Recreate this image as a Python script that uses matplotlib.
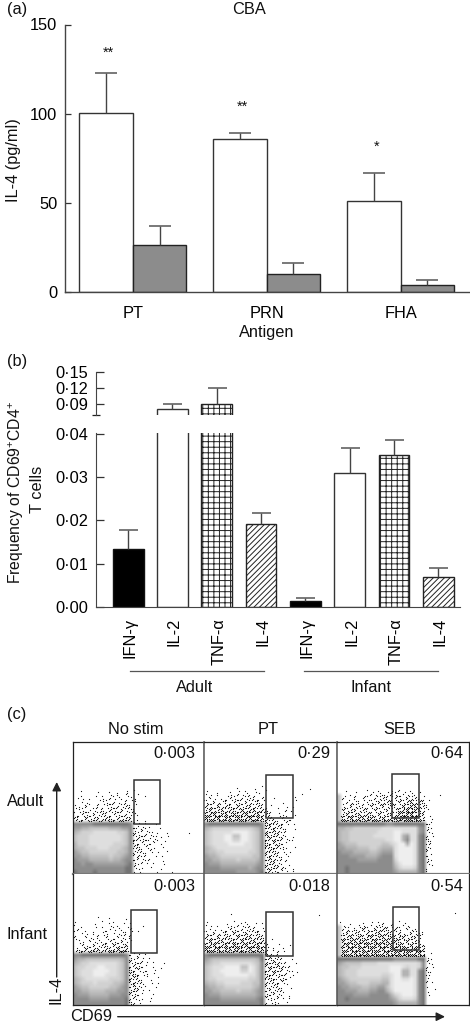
import numpy as np
import matplotlib
matplotlib.use("Agg")
import matplotlib.pyplot as plt
from matplotlib.patches import Rectangle
from matplotlib.transforms import ScaledTranslation

plt.rcParams['font.family'] = ['Liberation Sans', 'DejaVu Sans']
plt.rcParams['mathtext.default'] = 'regular'
plt.rcParams['hatch.linewidth'] = 0.7

# ---- panel (a) ----
antigens = ['PT', 'PRN', 'FHA']
il4_high = [100.5, 86, 51]
il4_high_top = [123, 89, 66.5]
il4_low = [26.5, 10, 4]
il4_low_top = [37, 16.5, 6.5]
a_ticks = [0, 50, 100, 150]
a_stars = ['**', '**', '*']
a_star_y = [134, 104, 81.5]

# ---- panel (b) ----
cytokines = ['IFN-γ', 'IL-2', 'TNF-α', 'IL-4', 'IFN-γ', 'IL-2', 'TNF-α', 'IL-4']
freq = [0.0135, 0.0808, 0.09, 0.0192, 0.0014, 0.031, 0.035, 0.007]
freq_top = [0.0178, 0.09, 0.12, 0.0218, 0.002, 0.0367, 0.0385, 0.009]
freq_style = ['solid', 'open', 'grid', 'diag', 'solid', 'open', 'grid', 'diag']
b_low_ticks = [0.00, 0.01, 0.02, 0.03, 0.04]
b_low_labels = ['0·00', '0·01', '0·02', '0·03', '0·04']
b_high_ticks = [0.09, 0.12, 0.15]
b_high_labels = ['0·09', '0·12', '0·15']

# ---- panel (c) ----
col_names = ['No stim', 'PT', 'SEB']
row_names = ['Adult', 'Infant']
gate_pct = [['0·003', '0·29', '0·64'], ['0·003', '0·018', '0·54']]
gate_x = [[46.8, 46.7, 41.9], [44.3, 46.9, 42.2]]
gate_y = [[38.1, 42.2, 42.6], [39.4, 37.5, 41.7]]
gate_w = 20.0
gate_h = 33.0
grey_levels = [1.0, 0.93, 0.87, 0.82, 0.76, 0.70, 0.62, 0.55, 0.45, 0.35]

# Read-off density maps: digit = grey level of the contour, letter = count of dots in cell
adult_nostim = [
"", "",
"..a...a..a.a.b.a",
"..a..a.a.aab.ba.a.a",
".aa.a.ababa.abab",
"a.aba.babcbabbaa",
"abab.bababcbbcba",
"babcabbcbcbcbabb",
"bcbcbcbcbcbbccb.a",
"cbcccdccddcdddc.a.a",
"777778888888887ba.a.a",
"665544444555667cabaa.a",
"543332222223347cabab.a.a.....a",
"433322222222347cbcbab.aa",
"433322222222347dcbcaba.a",
"533322222233347bcbaba.a",
"544333222333457ccabaa.a",
"654433333334457bcbab.a.a",
"665544444344567bcba.a.a",
"766655555455677bbaba..a",
"776776666666678baba.a.a",
"777777777777788baa.a..a",
"877778777777788baa...a..a",
]
adult_pt = [
"",
"........a...a.a...........a",
"a..a..a.a.b.aa.a",
"ab.a.abababab.a.......a.a",
"bab.bcbbcbbcbcb..a....a",
"bcbcabcbcbccbcb.a..a",
"cdcdcdcddcdcdcbb..a.a.a",
"ededededdedededcb.a.ba",
"efefefefefefefdcb.aba.a",
"fefefefefefefeedcbabab",
"788888888888887eddbcb.a",
"543333333333457dcdcba.a",
"432222211112347dcdcba",
"432221144112347ecdcba.a",
"432221133112347dcdcbab",
"432222111122347dcdcba",
"543222222222347dcdcba.a",
"544332222223347cdcba.a",
"655433333333447cdcbab",
"665544443444457cdcbab",
"766655555555567cdcba.a",
"777766666665677dcdbca.a",
"777777776666678dcbbaa.a",
]
adult_seb = [
"", "",
"..a.a..a.ab.abab.ab.a",
"4.aab.abbabcbcbcabbb.a...a",
"4b.abab.bcbcbcbcbcdcbca",
"4abcbabbcbcdcdcbcdedcca",
"4cbcbcbcbcbcbcbdedfedcb",
"4bcdcbcbcbcbcbbefgfedc",
"4ededededcdcdccdgfgfec.a",
"4fefefefefefefefefgfed.a",
"8888888888887788888888ca",
"5544333333322222222267ba",
"5443333333222211222267ba",
"5443333332222211562278ba",
"5443333333332211572278ca",
"6544433333344321151278ba",
"6655544433455521111278ba",
"7666555544566621111278b",
"7776666555677721111278ba",
"7777766666777731111278ba",
"7777777777777742111278ba",
"7787777777777753222378a",
"7787777777777765555578a",
]
infant_nostim = [
"",
"......a..a...a",
"a....a.a.aa.a.a",
"a.a..a.a.aab.aa..a",
"ab.a.a.abaa.bab.a",
"a.ab.abab.abbab",
"ba.abab.bababab",
".ab.ababcbcbcb",
"aabcbcbccbcdcd",
"bcdcdedcdefefe",
"77888888888887bab.a",
"65544444444457caba.a",
"54332222222347cbcba.a.a",
"43322211222347cdcba.a.a",
"43222111122347dcbab.a",
"43222111222347cdcab.a",
"54322222233347dcba.a.a",
"54333233334457cdcb.a.a",
"65443333344567bdbaa.a",
"66554444555667cdba.a",
"76665555566677cbba..a",
"77776666677778bcaa.a",
"77777777777778cba..a",
]
infant_pt = [
"......a.....................a",
"",
"a....a.a.ab.a.a",
"aa.a.abababab.a",
"bab.bcbcbcbcbca",
"bcbcbcbcdcdcbcb",
"cdcdcdcdcdedcdc.a",
"dedededededededb..a",
"efefefefefefefec.a.a.a",
"ffffefefefefefed.aba",
"788888888888888dcba",
"654444444444458cdbca.a",
"543322222222347dcdcba.a",
"432221111441247cdcdcba",
"432211111331247dcdcbab.a",
"432221111112247cdcbcb.a",
"433222222223347dcdbcba",
"544332222333447ccbcba",
"655443333333457cbcba.a",
"665544443444567bcbcb",
"766655555555567cbbba.a",
"777766666666678bbaba.a",
"777777777777778baba.a",
]
infant_seb = [
".............................a",
"",
"a..a..a.a.ab.a.a.a",
"4ab.abcbabcbcbababa",
"4bcbcbcbcdcdcbcb.abc.a",
"4dcdcdcdedededcdcbcbca",
"4ededededededededcdcb",
"4defefefefefefedcdcdc",
"4fefefefefefefefededed",
"4efefefefefefefefefefe",
"4gfgfgfgfgfgfgfgfgfgff.a",
"8888888888888877777788ba",
"6544443333222222222237ba",
"5443332222222111232237ba",
"5433322222222111552278ba",
"5433322222233211552278b",
"6543333333344211221278a",
"6654433344455211111278ba",
"7665554455664211111278a",
"7766655566775311111278a.a",
"7777666677777532111278a",
"7787777777777653222378",
"7777777777777765555578",
]
density_maps = [[adult_nostim, adult_pt, adult_seb], [infant_nostim, infant_pt, infant_seb]]

W, H = 470, 1029
fig = plt.figure(figsize=(W / 100, H / 100), dpi=100, facecolor='white')


def box(x0, y0, x1, y1, **kw):
    return fig.add_axes([x0 / W, 1 - y1 / H, (x1 - x0) / W, (y1 - y0) / H], **kw)


def upper_error(ax, x, bottom, top, cap_px, color='#444444'):
    ax.vlines(x, bottom, top, color=color, lw=1.0, zorder=3)
    ax.plot(x, top, ls='none', marker='_', ms=cap_px * 0.72, mew=1.1, color='#555555', zorder=3)


# overlay in pixel coordinates for labels
ov = fig.add_axes([0, 0, 1, 1], zorder=10)
ov.set_xlim(0, W)
ov.set_ylim(H, 0)
ov.axis('off')
ov.patch.set_alpha(0)
FS = 11.8


def label(x, y, s, ha='center', va='center', rot=0, fs=FS):
    ov.text(x, y, s, ha=ha, va=va, rotation=rot, fontsize=fs, color='#111111')


# ---------- (a) ----------
axa = box(65.3, 24.5, 469, 292)
xa = np.arange(len(antigens))
wa = 0.4
axa.bar(xa - wa / 2, il4_high, wa, color='white', edgecolor='#333333', lw=1.0, zorder=2)
axa.bar(xa + wa / 2, il4_low, wa, color='#8c8c8c', edgecolor='#222222', lw=1.0, zorder=2)
upper_error(axa, xa - wa / 2, il4_high, il4_high_top, 23)
upper_error(axa, xa + wa / 2, il4_low, il4_low_top, 23)
for xi, s, yi in zip(xa, a_stars, a_star_y):
    axa.text(xi - wa / 2 + 0.02, yi, s, ha='center', va='center', fontsize=10.5, color='#111111')
axa.set_xlim(-0.504, 2.511)
axa.set_ylim(0, 150)
axa.set_yticks(a_ticks)
axa.set_xticks(xa)
axa.set_xticklabels(antigens, fontsize=FS)
axa.tick_params(axis='y', direction='in', length=4.5, width=0.9, pad=5.8, labelsize=FS, color='#333333')
axa.tick_params(axis='x', length=0, pad=10)
for s in ['top', 'right']:
    axa.spines[s].set_visible(False)
for s in ['left', 'bottom']:
    axa.spines[s].set_color('#444444')
    axa.spines[s].set_linewidth(1.0)
label(7, 9.5, '(a)', ha='left')
label(249, 9.5, 'CBA')
label(267, 333, 'Antigen')
label(14, 160, 'IL-4 (pg/ml)', rot=90)

# ---------- (b) ----------
pad_l, pad_r = 96.3, 460
step_px, width_px, first_px = 44.3, 30.7, 128.2
xb = np.arange(len(cytokines))
xlim_b = ((pad_l - first_px) / step_px, (pad_r - first_px) / step_px)
wb = width_px / step_px
y_high_low = 0.09 - (415.3 - 404.3) / 16.3 * 0.03
axh = box(pad_l, 371.7, pad_r, 415.3)
axl = box(pad_l, 432.5, pad_r, 607)
style_kw = {
    'solid': dict(color='black', edgecolor='#111111'),
    'open': dict(color='white', edgecolor='#333333'),
    'grid': dict(color='white', edgecolor='#222222', hatch='+++'),
    'diag': dict(color='white', edgecolor='#222222', hatch='//////'),
}
for ax in (axh, axl):
    for xi, v, st in zip(xb, freq, freq_style):
        ax.bar(xi, v, wb, lw=1.0, zorder=2, **style_kw[st])
    ax.set_xlim(*xlim_b)
    for s in ['top', 'right']:
        ax.spines[s].set_visible(False)
    ax.spines['left'].set_color('#444444')
    ax.tick_params(axis='y', which='major', direction='in', length=5.8, width=0.9,
                   pad=5.8, labelsize=FS, color='#333333')
for xi, v, t in zip(xb, freq, freq_top):
    ax = axh if t > 0.05 else axl
    upper_error(ax, xi, v, t, 19)
axh.set_ylim(y_high_low, 0.15)
axh.set_yticks(b_high_ticks)
axh.set_yticklabels(b_high_labels)
axh.set_yticks([y_high_low], minor=True)
axh.tick_params(axis='y', which='minor', direction='inout', length=5.5, width=0.9, color='#222222')
axh.set_xticks([])
axh.spines['bottom'].set_visible(False)
axl.set_ylim(0, 0.0403)
axl.set_yticks(b_low_ticks)
axl.set_yticklabels(b_low_labels)
axl.set_xticks(xb)
axl.set_xticklabels(cytokines, rotation=90, fontsize=FS, va='top', ha='center')
axl.tick_params(axis='x', length=0, pad=8)
for t in axl.get_xticklabels():
    t.set_transform(t.get_transform() + ScaledTranslation(2 / 100, 0, fig.dpi_scale_trans))
axl.spines['bottom'].set_color('#444444')
label(7, 361.5, '(b)', ha='left')
label(16.5, 492.5, 'Frequency of CD69$^{+}$CD4$^{+}$', rot=90, fs=11.3)
label(37.5, 489, 'T cells', rot=90)
for x0, x1, name in [(130, 264, 'Adult'), (304.3, 438.3, 'Infant')]:
    ov.plot([x0, x1], [671, 671], color='#555555', lw=0.9)
    label((x0 + x1) / 2 - (2 if name == 'Adult' else 0), 687.7, name)

# ---------- (c) ----------
col_edges = [72.5, 204, 336.7, 469.3]
row_edges = [742.3, 873.7, 1005]
pct_x = [0.932, 0.95, 0.954]
pct_y = [0.918, 0.90]
NC = 33
grid_top = 70.0
slots = [(.2, .3), (.7, .75), (.75, .2), (.25, .8), (.5, .5), (.1, .6), (.85, .5), (.45, .1)]
for i in range(2):
    for j in range(3):
        ax = box(col_edges[j], row_edges[i], col_edges[j + 1], row_edges[i + 1])
        rows = [r.ljust(NC, '.')[:NC] for r in density_maps[i][j]]
        nr = len(rows)
        img = np.ones((nr, NC))
        dx, dy = [], []
        cw, ch = 100 / NC, grid_top / nr
        for r, row in enumerate(rows):
            for c, v in enumerate(row):
                if v.isdigit():
                    img[r, c] = grey_levels[int(v)]
                elif v.isalpha():
                    n = ord(v) - ord('a') + 1
                    start = (r * 5 + c * 3) % len(slots)
                    for k in range(n):
                        sx, sy = slots[(start + k) % len(slots)]
                        dx.append((c + sx) * cw)
                        dy.append(grid_top - (r + sy) * ch)
        ax.imshow(img, cmap='gray', vmin=0, vmax=1, extent=[0, 100, 0, grid_top],
                  interpolation='bilinear', aspect='auto', zorder=1)
        pts = ax.scatter(dx, dy, s=0.6, marker='s', color='#1a1a1a', linewidths=0, zorder=2)
        pts.set_snap(False)
        ax.add_patch(Rectangle((gate_x[i][j], gate_y[i][j]), gate_w, gate_h, fill=False,
                               edgecolor='#333333', lw=1.1, zorder=3))
        ax.set_xlim(0, 100)
        ax.set_ylim(0, 100)
        ax.set_xticks([])
        ax.set_yticks([])
        for s in ax.spines.values():
            s.set_color('#222222')
            s.set_linewidth(0.9)
        if i == 0:
            ax.spines['bottom'].set_color('#777777')
            ax.spines['bottom'].set_linewidth(1.6)
        else:
            ax.spines['top'].set_visible(False)
        if j > 0:
            ax.spines['left'].set_color('#555555')
            ax.spines['left'].set_linewidth(1.1)
        ax.text(pct_x[j], pct_y[i], gate_pct[i][j], transform=ax.transAxes, ha='right', va='center',
                fontsize=11.8, color='#111111')
label(7, 715, '(c)', ha='left')
for x, s in zip([135.7, 267.7, 399.7], col_names):
    label(x, 729.3, s)
for y, s in zip([801, 934.3], row_names):
    label(7, y, s, ha='left')
label(56, 990, 'IL-4', rot=90)
label(70, 1016.7, 'CD69', ha='left')
ov.annotate('', xy=(56.7, 782), xytext=(56.7, 977),
            arrowprops=dict(arrowstyle='-|>', color='#222222', lw=1.0, mutation_scale=13, shrinkA=0, shrinkB=0))
ov.annotate('', xy=(445, 1016.7), xytext=(117.7, 1016.7),
            arrowprops=dict(arrowstyle='-|>', color='#222222', lw=1.0, mutation_scale=13, shrinkA=0, shrinkB=0))

fig.savefig('out.png', dpi=100)
